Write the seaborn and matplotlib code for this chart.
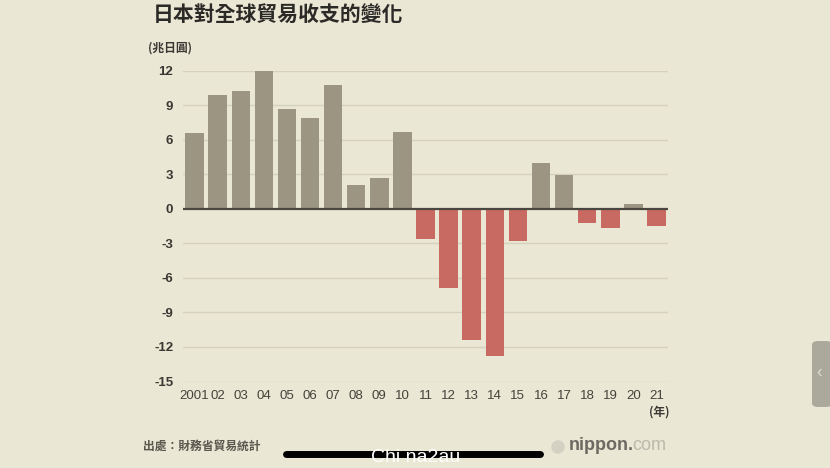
import matplotlib
matplotlib.use("Agg")
import matplotlib.pyplot as plt
import seaborn as sns
import pandas as pd
from matplotlib.patches import FancyBboxPatch, Ellipse

years = ["2001", "02", "03", "04", "05", "06", "07", "08", "09", "10", "11",
         "12", "13", "14", "15", "16", "17", "18", "19", "20", "21"]
balance = [6.6, 9.9, 10.2, 12.0, 8.7, 7.9, 10.8, 2.1, 2.7, 6.7, -2.6,
           -6.9, -11.4, -12.8, -2.8, 4.0, 2.9, -1.2, -1.7, 0.4, -1.5]
yticks = [12, 9, 6, 3, 0, -3, -6, -9, -12, -15]

title = "日本對全球貿易收支的變化"
unit = "(兆日圓)"
year_unit = "(年)"
source = "出處：財務省貿易統計"

BG = "#ebe7d5"
GRAY = "#9b9582"
RED = "#c86962"
CJK = ["Noto Sans CJK TC", "DejaVu Sans"]
NUM = ["Liberation Sans", "DejaVu Sans"]

sns.set_theme(style="white")
plt.rcParams["font.family"] = CJK

df = pd.DataFrame({"year": years, "value": balance,
                   "sign": ["pos" if v >= 0 else "neg" for v in balance]})

fig = plt.figure(figsize=(8.3, 4.68), dpi=100, facecolor=BG)
ax = fig.add_axes([183 / 830, 1 - 381.5 / 468, 485 / 830, (381.5 - 70.7) / 468])
ax.set_facecolor(BG)

for t in yticks:
    if t != 0:
        ax.axhline(t, color="#d5d1be", lw=1.0, zorder=0)

sns.barplot(data=df, x="year", y="value", hue="sign", palette={"pos": GRAY, "neg": RED},
            dodge=False, legend=False, width=0.8, ax=ax, zorder=2, saturation=1,
            linewidth=0, edgecolor="none")
ax.axhline(0, color="#4a4740", lw=1.6, zorder=3)

ax.set_ylim(-15, 12)
ax.set_xlim(-0.5, len(years) - 0.5)
ax.set_yticks(yticks)
ax.set_yticklabels([str(t) for t in yticks], fontfamily=NUM, fontweight="bold",
                   fontsize=9.5, color="#3a3833")
ax.set_xticks(range(len(years)))
ax.set_xticklabels(years, fontfamily=NUM, fontsize=9.5, color="#45423b")
ax.tick_params(axis="y", length=0, pad=7)
ax.tick_params(axis="x", direction="in", length=6, width=0.8, color="#cbc7b3", pad=6)
ax.set_xlabel("")
ax.set_ylabel("")
for s in ax.spines.values():
    s.set_visible(False)

fig.text(153 / 830, 1 - 15 / 468, title, fontsize=15, fontweight="bold",
         color="#2b2a27", va="center", ha="left", family=CJK)
fig.text(148 / 830, 1 - 48 / 468, unit, fontsize=8.5, fontweight="bold",
         color="#3a3833", va="center", ha="left", family=CJK)
fig.text(669 / 830, 1 - 412 / 468, year_unit, fontsize=8.5, fontweight="bold",
         color="#3a3833", va="center", ha="right", family=CJK)
fig.text(143 / 830, 1 - 446 / 468, source, fontsize=8.5, fontweight="bold",
         color="#5a574e", va="center", ha="left", family=CJK)

# logo
fig.patches.append(Ellipse((558 / 830, 1 - 447 / 468), 12 / 830, 12 / 468,
                           transform=fig.transFigure, color="#d4d0c2"))
fig.text(569 / 830, 1 - 446 / 468, "nippon.", fontsize=13, fontweight="bold",
         color="#6d6a62", va="center", ha="left", family=NUM)
fig.text(632 / 830, 1 - 446 / 468, "com", fontsize=13, color="#bdb9ad",
         va="center", ha="left", family=NUM)

# overlay bar with caption
fig.add_artist(plt.Line2D([286 / 830, 540 / 830], [1 - 454 / 468, 1 - 454 / 468],
                          transform=fig.transFigure, color="black", lw=5,
                          solid_capstyle="round"))
fig.text(416 / 830, 1 - 457 / 468, "Chi na2au", fontsize=14, color="white",
         va="center", ha="center", family=NUM)

# side tab
fig.patches.append(FancyBboxPatch((812 / 830, 1 - 407 / 468), 20 / 830, 66 / 468,
                                  boxstyle="round,pad=0,rounding_size=0.008",
                                  transform=fig.transFigure, facecolor="#aba89c",
                                  edgecolor="none"))
fig.text(819 / 830, 1 - 373 / 468, "‹", fontsize=12, color="#e0ddd2",
         va="center", ha="center", family=NUM)

fig.savefig("out.png", dpi=100, facecolor=BG)
